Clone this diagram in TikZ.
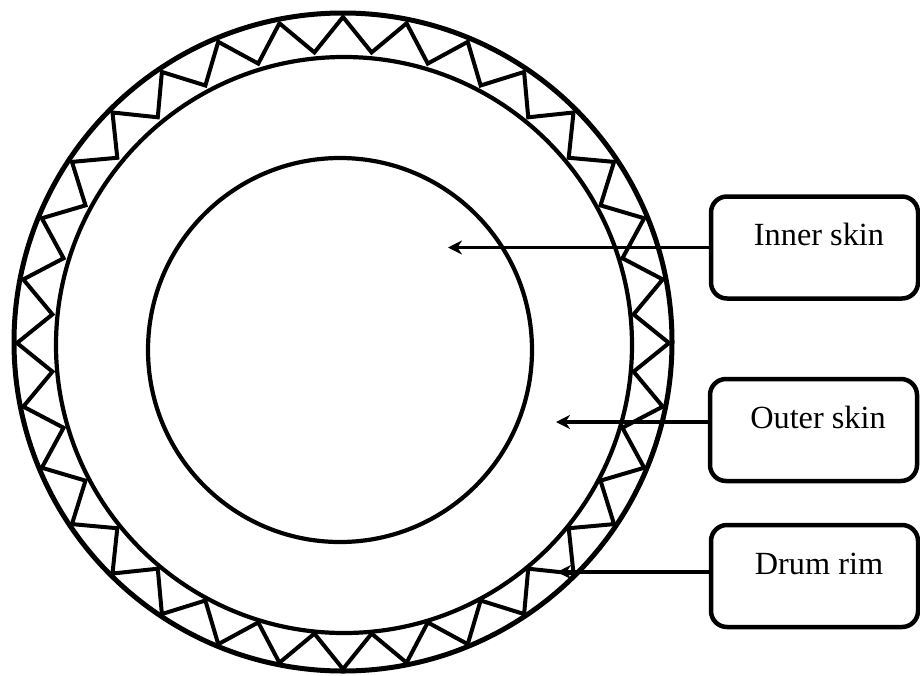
\documentclass[tikz,border=0pt]{standalone}
\usepackage{fontspec}
\setmainfont{Liberation Serif}
\usetikzlibrary{arrows.meta}
\begin{document}
\begin{tikzpicture}[x=1pt,y=-1pt,
  ring/.style={draw=black, line width=4.2pt},
  zig/.style={draw=black, line width=4pt, line join=miter},
  labelbox/.style={draw=black, line width=4.5pt, rounded corners=16pt, inner sep=0pt, outer sep=0pt,
    minimum width=207pt, text height=49pt, text depth=53pt,
    font=\fontsize{32.3}{36}\selectfont},
  pointer/.style={draw=black, line width=3.8pt, -{Stealth[length=14pt,width=14pt,inset=4.5pt]}}]
\useasboundingbox (0,0) rectangle (920,675);
% drum rings
\draw[ring, line width=5pt] (343,342) circle[radius=329pt];
\draw[ring] (344,345) circle[radius=288pt];
\draw[ring] (340,350) circle[radius=192pt];
% zigzag
\begin{scope}[shift={(343,343)}]
\draw[zig] (0:326) \foreach \k in {1,...,63}{ -- ({\k*5.625}:{ifthenelse(mod(\k,2)==0,326,292)}) } -- cycle;
\end{scope}
% label boxes
\node[labelbox] (inner) at (814.5,247.5) {\hspace*{9pt}Inner skin};
\node[labelbox] (outer) at (813.5,430) {\hspace*{9pt}Outer skin};
\node[labelbox] (rim) at (814.5,576) {\hspace*{9pt}Drum rim};
% arrow targets
\coordinate (tinner) at (448,247.5);
\coordinate (touter) at (556,422);
\coordinate (trim) at (557,572);
\draw[pointer] (inner.west) -- (tinner);
\draw[pointer] (outer.west |- touter) -- (touter);
\draw[pointer] (rim.west |- trim) -- (trim);
\end{tikzpicture}
\end{document}
